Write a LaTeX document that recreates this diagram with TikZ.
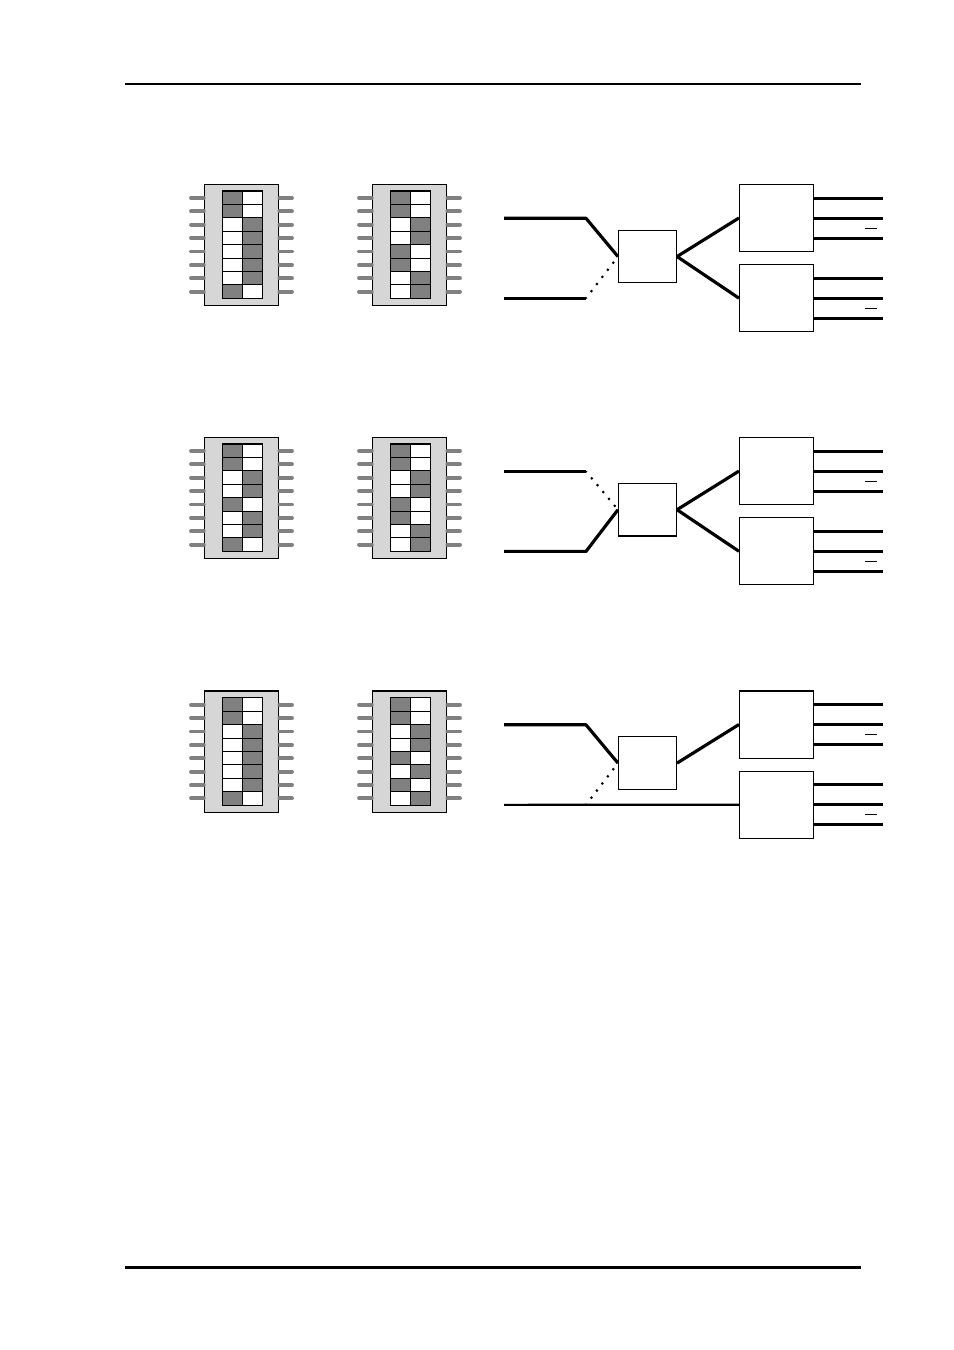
\documentclass[tikz,border=0pt]{standalone}
\usepackage{tikz}
\tikzset{
  chipbody/.style={draw=black,fill=black!16,line width=.3pt,inner sep=0,minimum width=.745cm,minimum height=1.21cm},
  celldark/.style={draw=black,fill=black!50,line width=.3pt,inner sep=0,minimum width=.2025cm,minimum height=.1341cm},
  cellblank/.style={draw=black,fill=white,line width=.3pt,inner sep=0,minimum width=.2025cm,minimum height=.1341cm},
  lcell L/.style={celldark},
  lcell R/.style={cellblank},
  rcell L/.style={cellblank},
  rcell R/.style={celldark},
  pinline/.style={draw=black!50,line width=1.1pt,line cap=round},
  block/.style={draw=black,fill=white,line width=.3pt,inner sep=0},
  muxbox/.style={block,minimum width=.58cm,minimum height=.525cm},
  decbox/.style={block,minimum width=.74cm,minimum height=.67cm},
  busline/.style={draw=black,line width=.9pt,line join=round},
  offline/.style={draw=black,line width=.6pt,dash pattern=on .6pt off 1.95pt,dash phase=.3pt},
  barline/.style={draw=black,line width=.25pt}
}
% one DIP chip: name, left x, top y, switch states
\newcommand{\dipchip}[4]{
  \node[chipbody] (#1) at (#2+37.6,#3+60.7) {};
  \foreach \state [count=\r from 0] in {#4} {
    \node[lcell \state] (#1l\r) at (#2+28.5,#3+13.7+\r*13.41) {};
    \node[rcell \state] (#1r\r) at (#2+48.7,#3+13.7+\r*13.41) {};
    \coordinate (#1a\r) at (#2-13,#3+14+\r*13.37);
    \coordinate (#1b\r) at (#2+88,#3+14+\r*13.37);
    \draw[pinline] (#1a\r) -- (#1a\r -| #1.west);
    \draw[pinline] (#1b\r) -- (#1b\r -| #1.east);
  }
}
% mux box and the two decoder boxes with their outputs
\newcommand{\decoders}[2]{
  \node[muxbox] (#1mux) at (647.5,#2+72.3) {};
  \node[decbox] (#1deca) at (776.5,#2+33.7) {};
  \node[decbox] (#1decb) at (776.5,#2+113.9) {};
  \foreach \y [count=\n] in {14,34,54,94,114,134} {
    \coordinate (#1out\n) at (883,#2+\y);
    \draw[busline] (#1out\n) -- (#1out\n -| #1deca.east);
  }
  \coordinate (#1bara) at (865,#2+44);
  \coordinate (#1barb) at (865,#2+124);
  \draw[barline] (#1bara) -- ++(12,0);
  \draw[barline] (#1barb) -- ++(12,0);
  \coordinate (#1ina) at (504,#2+34);
  \coordinate (#1inb) at (504,#2+114);
  \coordinate (#1benda) at (586,#2+34);
  \coordinate (#1bendb) at (586,#2+114);
}
\begin{document}
\begin{tikzpicture}[x=.01cm,y=-.01cm]
  \useasboundingbox (0,0) rectangle (954,1350);
  \coordinate (headl) at (125,84);
  \coordinate (headr) at (860.5,84);
  \coordinate (footl) at (125,1267);
  \coordinate (footr) at (860.5,1267);
  \draw[line width=.45pt] (headl) -- (headr);
  \draw[line width=.85pt] (footl) -- (footr);

  \dipchip{cha}{204}{184}{L,L,R,R,R,R,R,L}
  \dipchip{chb}{372}{184}{L,L,R,R,L,L,R,R}
  \dipchip{chc}{204}{437}{L,L,R,R,L,R,R,L}
  \dipchip{chd}{372}{437}{L,L,R,R,L,L,R,R}
  \dipchip{che}{204}{690.8}{L,L,R,R,R,R,R,L}
  \dipchip{chf}{372}{690.8}{L,L,R,R,L,R,L,R}

  \decoders{p}{184.25}
  \draw[busline] (pina) -- (pbenda) -- (pmux.west);
  \draw[busline] (pinb) -- (pbendb);
  \draw[offline] (pbendb) -- (pmux.west);
  \draw[busline] (pmux.east) -- (pdeca.west);
  \draw[busline] (pmux.east) -- (pdecb.west);

  \decoders{q}{437.4}
  \draw[busline] (qina) -- (qbenda);
  \draw[offline] (qbenda) -- (qmux.west);
  \draw[busline] (qinb) -- (qbendb) -- (qmux.west);
  \draw[busline] (qmux.east) -- (qdeca.west);
  \draw[busline] (qmux.east) -- (qdecb.west);

  \decoders{r}{690.8}
  \draw[busline] (rina) -- (rbenda) -- (rmux.west);
  \draw[offline] (rbendb) -- (rmux.west);
  \draw[line width=.6pt] (rinb) -- (rdecb.west);
  \draw[busline] (rmux.east) -- (rdeca.west);
\end{tikzpicture}
\end{document}
